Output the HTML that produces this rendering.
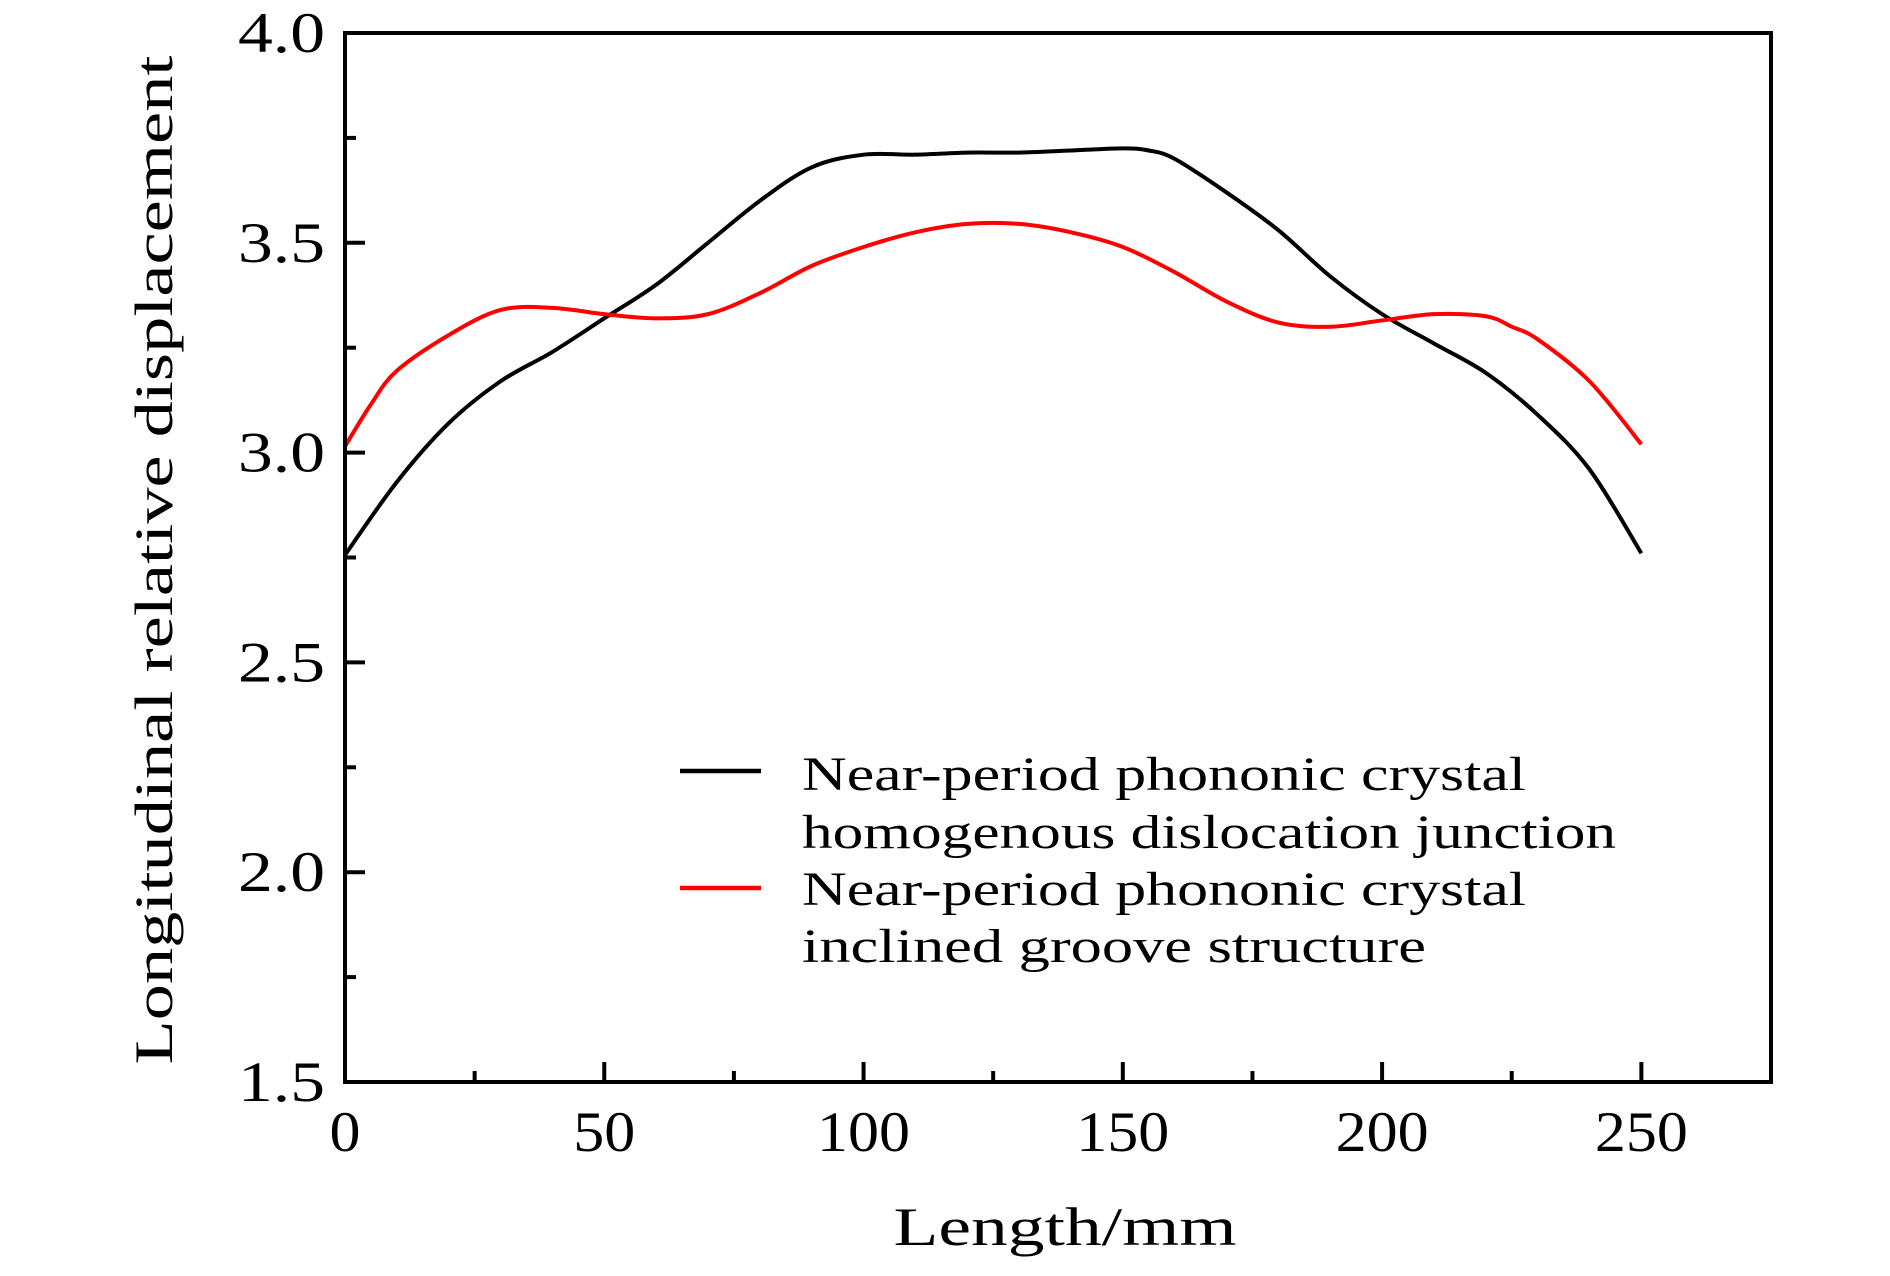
<!DOCTYPE html>
<html><head><meta charset="utf-8"><style>
html,body{margin:0;padding:0;background:#fff;}
svg{display:block;}
text{font-family:"Liberation Serif",serif;fill:#000;}
</style></head><body>
<svg id="chart" width="1890" height="1276" viewBox="0 0 1890 1276" xmlns="http://www.w3.org/2000/svg">
<rect x="0" y="0" width="1890" height="1276" fill="#fff"/>
<g id="series"></g>
<rect x="345" y="33" width="1426" height="1049" fill="none" stroke="#000" stroke-width="4"/>
<g id="ticks"></g>
<text x="1065" y="1245" font-size="54" text-anchor="middle" textLength="343" lengthAdjust="spacingAndGlyphs">Length/mm</text>
<text transform="translate(172,560) rotate(-90)" font-size="54" text-anchor="middle" textLength="1009" lengthAdjust="spacingAndGlyphs">Longitudinal relative displacement</text>
<g>
<line x1="680" y1="771" x2="761" y2="771" stroke="#000" stroke-width="4.5"/>
<line x1="680" y1="888" x2="761" y2="888" stroke="#f00" stroke-width="4.5"/>
<text x="802" y="790" font-size="48" textLength="724" lengthAdjust="spacingAndGlyphs">Near-period phononic crystal</text>
<text x="802" y="848" font-size="48" textLength="814" lengthAdjust="spacingAndGlyphs">homogenous dislocation junction</text>
<text x="802" y="905" font-size="48" textLength="724" lengthAdjust="spacingAndGlyphs">Near-period phononic crystal</text>
<text x="802" y="962" font-size="48" textLength="624" lengthAdjust="spacingAndGlyphs">inclined groove structure</text>
</g>
</svg>
<script>
const xs = [0,10,20,30,40,50,60,70,80,90,100,110,120,130,140,150,155,160,170,180,190,200,210,220,230,240,250];
const blackVals = [2.756,2.93,3.07,3.17,3.24,3.32,3.40,3.50,3.60,3.68,3.71,3.71,3.715,3.715,3.72,3.725,3.72,3.70,3.62,3.53,3.42,3.33,3.26,3.19,3.09,2.96,2.76];
const redX = [0,5,10,20,30,40,50,60,70,80,90,100,110,120,130,140,150,160,170,180,190,200,210,220,225,230,240,250];
const redVals = [3.015,3.115,3.195,3.28,3.34,3.345,3.33,3.32,3.33,3.38,3.445,3.49,3.525,3.545,3.545,3.525,3.49,3.43,3.36,3.31,3.30,3.315,3.33,3.325,3.30,3.27,3.17,3.02];
const xTicks = [0,50,100,150,200,250];
const xMinor = [25,75,125,175,225];
const yTicks = [1.5,2.0,2.5,3.0,3.5,4.0];
const yMinor = [1.75,2.25,2.75,3.25,3.75];
const xTickLabels = ["0","50","100","150","200","250"];
const yTickLabels = ["1.5","2.0","2.5","3.0","3.5","4.0"];

const NS = "http://www.w3.org/2000/svg";
const X0=345, X1=1771, Y0=1082, Y1=33;
function sx(v){return X0 + (v-0)/(275-0)*(X1-X0);}
function sy(v){return Y0 - (v-1.5)/(4.0-1.5)*(Y0-Y1);}
function smooth(px,py){
  const p=px.map((x,i)=>[sx(x),sy(py[i])]);
  let d="M"+p[0][0].toFixed(2)+","+p[0][1].toFixed(2);
  for(let i=0;i<p.length-1;i++){
    const p0=p[i-1]||p[i],p1=p[i],p2=p[i+1],p3=p[i+2]||p[i+1];
    const c1=[p1[0]+(p2[0]-p0[0])/6,p1[1]+(p2[1]-p0[1])/6];
    const c2=[p2[0]-(p3[0]-p1[0])/6,p2[1]-(p3[1]-p1[1])/6];
    d+=" C"+c1[0].toFixed(2)+","+c1[1].toFixed(2)+" "+c2[0].toFixed(2)+","+c2[1].toFixed(2)+" "+p2[0].toFixed(2)+","+p2[1].toFixed(2);
  }
  return d;
}
const sg=document.getElementById("series");
const pb=document.createElementNS(NS,"path");
pb.setAttribute("d",smooth(xs,blackVals));
pb.setAttribute("fill","none");pb.setAttribute("stroke","#000");pb.setAttribute("stroke-width","4");


sg.appendChild(pb);
const pr=document.createElementNS(NS,"path");
pr.setAttribute("d",smooth(redX,redVals));
pr.setAttribute("fill","none");pr.setAttribute("stroke","#f00");pr.setAttribute("stroke-width","4");


sg.appendChild(pr);

const tg=document.getElementById("ticks");
function line(x1,y1,x2,y2,name){
  const l=document.createElementNS(NS,"line");
  l.setAttribute("x1",x1);l.setAttribute("y1",y1);l.setAttribute("x2",x2);l.setAttribute("y2",y2);
  l.setAttribute("stroke","#000");l.setAttribute("stroke-width","4");
  
  
  tg.appendChild(l);
}
function text(x,y,s,anchor,name,w){
  const t=document.createElementNS(NS,"text");
  t.setAttribute("x",x);t.setAttribute("y",y);t.setAttribute("font-size","57");t.setAttribute("text-anchor",anchor);
  t.setAttribute("textLength", String(s.length*w));
  t.setAttribute("lengthAdjust","spacingAndGlyphs");
  t.textContent=s;
  
  
  tg.appendChild(t);
}
xTicks.forEach((v,i)=>{line(sx(v),Y0,sx(v),Y0-20,"x-tick");text(sx(v),1151,xTickLabels[i],"middle","x-tick-label",31);});
xMinor.forEach(v=>line(sx(v),Y0,sx(v),Y0-11,"x-minor-tick"));
yTicks.forEach((v,i)=>{line(X0,sy(v),X0+20,sy(v),"y-tick");text(325,sy(v)+19,yTickLabels[i],"end","y-tick-label",29);});
yMinor.forEach(v=>line(X0,sy(v),X0+11,sy(v),"y-minor-tick"));
</script>
</body></html>
